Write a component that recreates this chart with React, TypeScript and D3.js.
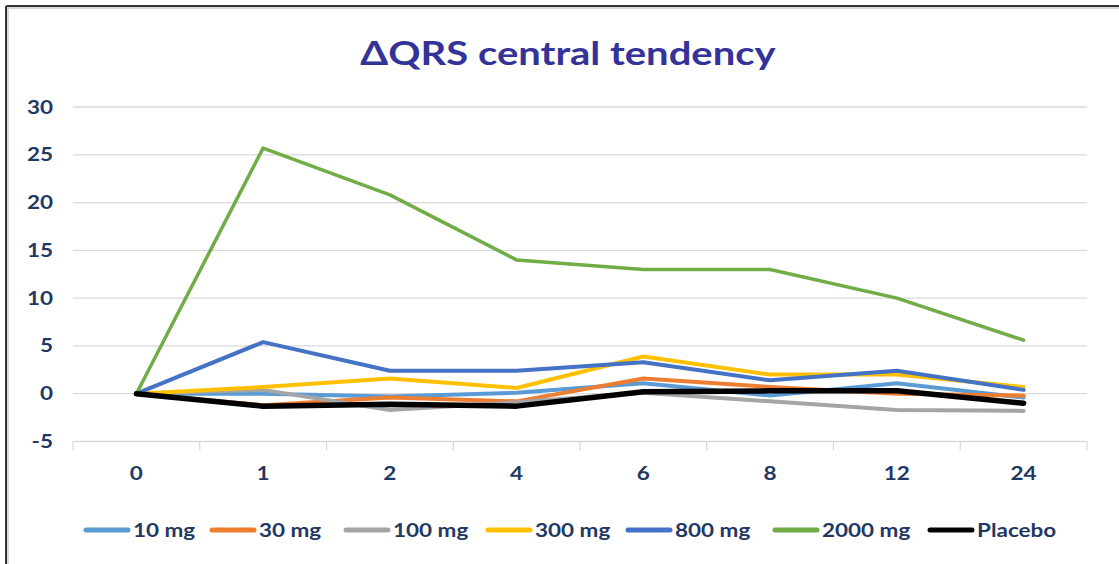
import React from "react";
import * as d3 from "d3";

const categories = ["0", "1", "2", "4", "6", "8", "12", "24"];
const yTicks = [-5, 0, 5, 10, 15, 20, 25, 30];

const seriesNames = ["10 mg", "30 mg", "100 mg", "300 mg", "800 mg", "2000 mg", "Placebo"];
const tenMg = [0, 0.0, -0.3, 0.1, 1.1, -0.2, 1.1, -0.4];
const thirtyMg = [0, -1.2, -0.4, -0.8, 1.6, 0.7, 0.0, -0.2];
const hundredMg = [0, 0.4, -1.7, -0.9, 0.1, -0.8, -1.7, -1.8];
const threeHundredMg = [0, 0.7, 1.6, 0.6, 3.9, 2.0, 2.0, 0.7];
const eightHundredMg = [0, 5.4, 2.4, 2.4, 3.3, 1.4, 2.4, 0.4];
const twoThousandMg = [0, 25.7, 20.8, 14.0, 13.0, 13.0, 10.0, 5.6];
const placebo = [0, -1.3, -1.1, -1.3, 0.2, 0.3, 0.3, -1.0];

const seriesValues = [tenMg, thirtyMg, hundredMg, threeHundredMg, eightHundredMg, twoThousandMg, placebo];
const colors = ["#5B9BD5", "#ED7D31", "#A5A5A5", "#FFC000", "#4472C4", "#70AD47", "#000000"];
const widths = [4, 4, 4, 4, 4, 3.5, 5.5];

const W = 1119;
const H = 564;
const plotLeft = 73;
const plotRight = 1087;
const plotTop = 107;
const plotBottom = 441.5;
const FONT = "Lato, 'Open Sans', sans-serif";
const SX = 1.25;
const legendX = [84, 210, 344, 486, 626, 773, 928];

export default function App() {
  const x = d3.scaleBand<string>().domain(categories).range([plotLeft, plotRight]);
  const y = d3.scaleLinear().domain([-5, 30]).range([plotBottom, plotTop]);
  const cx = (c: string) => (x(c) as number) + x.bandwidth() / 2;
  const line = d3
    .line<number>()
    .x((_, i) => cx(categories[i]))
    .y((v) => y(v));
  const boundaries = categories.map((c) => x(c) as number).concat([plotRight]);

  return (
    <svg width={W} height={H} style={{ position: "absolute", left: 0, top: 0, background: "#fff" }}>
      <rect x={0} y={0} width={W} height={H} fill="#fff" />
      {/* frame */}
      <rect x={7} y={7} width={W} height={H} fill="none" stroke="#D9D9D9" strokeWidth={4} />
      <line x1={6.5} y1={6} x2={W} y2={6} stroke="#333" strokeWidth={2} />
      <line x1={6} y1={6} x2={6} y2={H} stroke="#333" strokeWidth={2} />

      {/* title */}
      <text
        transform={`translate(568,65) scale(${SX},1)`}
        textAnchor="middle"
        fontFamily={FONT}
        fontWeight="bold"
        fontSize={32}
        fill="#333399"
      >
        ΔQRS central tendency
      </text>

      {/* gridlines */}
      {yTicks.map((t) => (
        <line key={t} x1={plotLeft} x2={plotRight} y1={y(t)} y2={y(t)} stroke="#D9D9D9" strokeWidth={1.3} />
      ))}
      {boundaries.map((b, i) => (
        <line key={i} x1={b} x2={b} y1={plotBottom} y2={plotBottom + 9} stroke="#D9D9D9" strokeWidth={1.3} />
      ))}

      {/* y labels */}
      {yTicks.map((t) => (
        <text
          key={t}
          transform={`translate(53,${y(t) + 6.5}) scale(${SX},1)`}
          textAnchor="end"
          fontFamily={FONT}
          fontWeight="bold"
          fontSize={18}
          fill="#1F3864"
        >
          {t}
        </text>
      ))}

      {/* x labels */}
      {categories.map((c) => (
        <text
          key={c}
          transform={`translate(${cx(c)},480) scale(${SX},1)`}
          textAnchor="middle"
          fontFamily={FONT}
          fontWeight="bold"
          fontSize={18}
          fill="#1F3864"
        >
          {c}
        </text>
      ))}

      {/* lines */}
      {seriesValues.map((vals, i) => (
        <path
          key={seriesNames[i]}
          d={line(vals) || ""}
          fill="none"
          stroke={colors[i]}
          strokeWidth={widths[i]}
          strokeLinejoin="round"
          strokeLinecap="round"
        />
      ))}

      {/* legend */}
      {seriesNames.map((n, i) => (
        <g key={n}>
          <line
            x1={legendX[i] + 2}
            x2={legendX[i] + 44}
            y1={530}
            y2={530}
            stroke={colors[i]}
            strokeWidth={5}
            strokeLinecap="round"
          />
          <text
            transform={`translate(${legendX[i] + 49},537) scale(${SX},1)`}
            fontFamily={FONT}
            fontWeight="bold"
            fontSize={18}
            fill="#1F3864"
          >
            {n}
          </text>
        </g>
      ))}
    </svg>
  );
}
